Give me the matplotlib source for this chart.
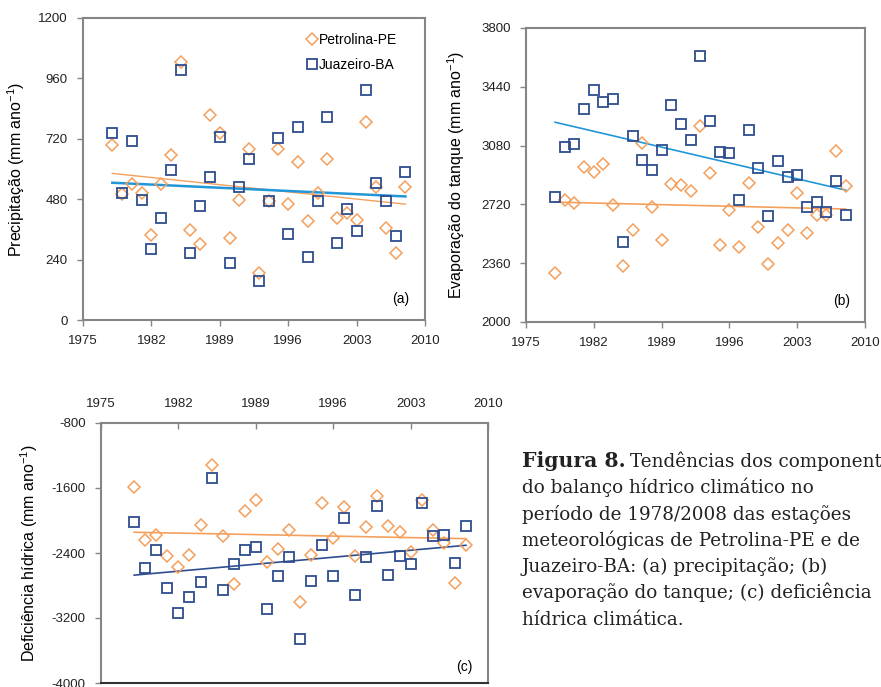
import numpy as np
import matplotlib
matplotlib.use("Agg")
import matplotlib.pyplot as plt

plt.rcParams['font.family'] = ['Liberation Sans', 'DejaVu Sans']
plt.rcParams['mathtext.fontset'] = 'custom'
plt.rcParams['mathtext.rm'] = 'Liberation Sans'
plt.rcParams['mathtext.it'] = 'Liberation Sans'
plt.rcParams['axes.unicode_minus'] = False

# ---------------------------------------------------------------------------
# dados (1978-2008)
anos = [1978, 1979, 1980, 1981, 1982, 1983, 1984, 1985, 1986, 1987, 1988,
        1989, 1990, 1991, 1992, 1993, 1994, 1995, 1996, 1997, 1998, 1999,
        2000, 2001, 2002, 2003, 2004, 2005, 2006, 2007, 2008]

# (a) precipitação
prec_pet = [694, 500, 541, 504, 338, 541, 656, 1026, 358, 302, 814,
            745, 324, 475, 680, 186, 471, 680, 460, 629, 395, 504,
            639, 406, 427, 398, 785, 527, 365, 265, 527]
prec_jua = [743, 504, 712, 477, 282, 407, 597, 995, 265, 454, 568,
            727, 228, 527, 641, 153, 471, 723, 342, 768, 252, 471,
            806, 305, 440, 355, 915, 544, 471, 334, 587]

# (b) evaporação do tanque
evap_pet = [2297, 2750, 2726, 2947, 2916, 2967, 2716, 2342, 2566, 3098, 2706,
            2505, 2843, 2836, 2804, 3200, 2910, 2474, 2683, 2460, 2849, 2581,
            2354, 2485, 2562, 2787, 2544, 2654, 2654, 3049, 2834]
evap_jua = [2763, 3074, 3090, 3305, 3423, 3344, 3364, 2491, 3139, 2992, 2930,
            3053, 3329, 3213, 3115, 3626, 3233, 3039, 3033, 2744, 3176, 2941,
            2650, 2986, 2890, 2900, 2706, 2732, 2671, 2861, 2658]

# (c) deficiência hídrica
def_pet = [-1591, -2243, -2181, -2439, -2575, -2427, -2058, -1312, -2193, -2787, -1882,
           -1743, -2509, -2349, -2120, -3001, -2427, -1788, -2214, -1833, -2439, -2083,
           -1702, -2062, -2140, -2390, -1743, -2120, -2275, -2775, -2304]
def_jua = [-2017, -2583, -2357, -2833, -3136, -2939, -2759, -1476, -2853, -2534, -2366,
           -2325, -3091, -2685, -2448, -3464, -2747, -2300, -2685, -1972, -2919, -2448,
           -1825, -2669, -2439, -2538, -1784, -2193, -2181, -2517, -2070]

xticks = [1975, 1982, 1989, 1996, 2003, 2010]
laranja = '#f4a05c'
azul = '#2e4d8f'
azul_claro = '#2196d8'
cinza = '#858585'
# ---------------------------------------------------------------------------

W, H = 881, 687
fig = plt.figure(figsize=(W/100, H/100), dpi=100)

def eixo(l, t, r, b):
    return fig.add_axes([l/W, 1 - b/H, (r - l)/W, (b - t)/H])

def tendencia(ax, x, y, cor, lw):
    p = np.polyfit(x, y, 1)
    xx = np.array([x[0], x[-1]])
    ax.plot(xx, np.polyval(p, xx), color=cor, lw=lw, zorder=3)

def pontos(ax, x, yp, yj):
    ax.plot(x, yp, ls='none', marker='D', ms=6.5, mfc='none', mec=laranja,
            mew=1.1, label='Petrolina-PE', zorder=4)
    ax.plot(x, yj, ls='none', marker='s', ms=6.5, mfc='none', mec=azul,
            mew=1.3, label='Juazeiro-BA', zorder=4)

def estilo(ax):
    for s in ax.spines.values():
        s.set_color(cinza)
        s.set_linewidth(1.5)
    ax.tick_params(labelsize=9.5, colors=cinza, labelcolor='#222222',
                   length=4, width=1, pad=7)

# (a)
ax1 = eixo(83, 18, 425, 320)
pontos(ax1, anos, prec_pet, prec_jua)
tendencia(ax1, anos, prec_pet, laranja, 1.0)
tendencia(ax1, anos, prec_jua, azul_claro, 1.8)
ax1.set_xlim(1975, 2010)
ax1.set_ylim(0, 1200)
ax1.set_xticks(xticks)
ax1.set_yticks([0, 240, 480, 720, 960, 1200])
estilo(ax1)
ax1.set_ylabel('Precipitação (mm ano$^{-1}$)', fontsize=11.5, labelpad=8)
ax1.text(0.93, 0.07, '(a)', transform=ax1.transAxes, fontsize=10,
         ha='center', va='center')
leg = ax1.legend(loc='upper left', bbox_to_anchor=(0.64, 0.97), frameon=False,
                 fontsize=10, handlelength=0.6, handletextpad=0.2,
                 labelspacing=0.8, borderaxespad=0.0)

# (b)
ax2 = eixo(526, 28, 865, 322)
pontos(ax2, anos, evap_pet, evap_jua)
tendencia(ax2, anos, evap_pet, laranja, 1.2)
tendencia(ax2, anos, evap_jua, azul_claro, 1.2)
ax2.set_xlim(1975, 2010)
ax2.set_ylim(2000, 3800)
ax2.set_xticks(xticks)
ax2.set_yticks([2000, 2360, 2720, 3080, 3440, 3800])
estilo(ax2)
ax2.set_ylabel('Evaporação do tanque (mm ano$^{-1}$)', fontsize=11.5, labelpad=10)
ax2.text(0.93, 0.07, '(b)', transform=ax2.transAxes, fontsize=10,
         ha='center', va='center')

# (c)
ax3 = eixo(101, 423, 488, 683)
pontos(ax3, anos, def_pet, def_jua)
tendencia(ax3, anos, def_pet, laranja, 1.2)
tendencia(ax3, anos, def_jua, azul, 1.2)
ax3.set_xlim(1975, 2010)
ax3.set_ylim(-4000, -800)
ax3.set_xticks(xticks)
ax3.set_yticks([-4000, -3200, -2400, -1600, -800])
estilo(ax3)
ax3.xaxis.tick_top()
ax3.tick_params(axis='x', direction='in', pad=9)
ax3.spines['bottom'].set_color('#333333')
ax3.set_ylabel('Deficiência hídrica (mm ano$^{-1}$)', fontsize=11.5, labelpad=8)
ax3.text(0.94, 0.06, '(c)', transform=ax3.transAxes, fontsize=10,
         ha='center', va='center')

# legenda da figura
linhas = ['do balanço hídrico climático no',
          'período de 1978/2008 das estações',
          'meteorológicas de Petrolina-PE e de',
          'Juazeiro-BA: (a) precipitação; (b)',
          'evaporação do tanque; (c) deficiência',
          'hídrica climática.']
fs = 13.2
x0 = 522 / W
fig.text(x0, 1 - 467/H, 'Figura 8.', fontsize=fs + 1.5, fontweight='bold',
         family='DejaVu Serif', va='baseline', color='#222222')
fig.text(x0 + 108/W, 1 - 467/H, 'Tendências dos componentes', fontsize=fs,
         family='DejaVu Serif', va='baseline', color='#222222')
for i, s in enumerate(linhas):
    fig.text(x0, 1 - (493.3 + 26.3*i)/H, s, fontsize=fs,
             family='DejaVu Serif', va='baseline', color='#222222')

fig.savefig('out.png', dpi=100)
